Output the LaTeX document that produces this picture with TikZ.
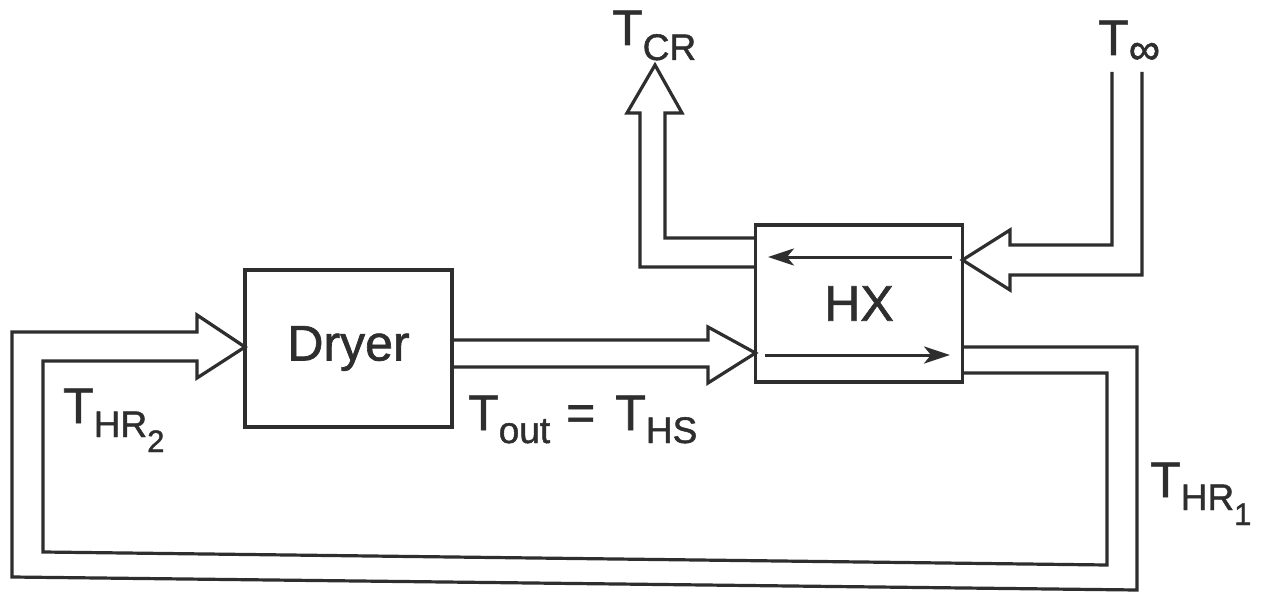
\documentclass[tikz,border=0pt]{standalone}
\usepackage{fontspec}
\setmainfont{Liberation Sans}[FakeBold=1.3]
\usetikzlibrary{arrows.meta}
\definecolor{ink}{HTML}{2E2E2E}
\newcommand\Tlab[1]{{\fontsize{50}{50}\selectfont T}#1}
\newcommand\subtxt[2]{\raisebox{-#1}{\fontsize{37}{37}\selectfont #2}}
\newcommand\subsub[2]{\raisebox{-#1}{\fontsize{31}{31}\selectfont #2}}
\begin{document}
\begin{tikzpicture}[x=1pt,y=-1pt,
  pipe/.style={draw=ink, line width=3.2pt, line join=miter},
  unit/.style={draw=ink, line width=3.6pt, outer sep=0pt, inner sep=0pt, minimum width=207pt, minimum height=157pt, font=\fontsize{50}{50}\selectfont, text=ink},
  flow/.style={draw=ink, line width=3pt, -{Stealth[length=26pt,width=17pt,inset=7pt]}},
  lab/.style={anchor=base west, inner sep=0pt, text=ink}]
\useasboundingbox (0,0) rectangle (1261,596);
\fill[white] (0,0) rectangle (1261,596);
% units
\node[unit] (dryer) at (348.5,348.5) {\raisebox{-4pt}{Dryer}};
\node[unit] (hx) at (859,303.5) {HX};
% internal flow arrows of HX
\coordinate (hxa1) at (952,257);
\coordinate (hxa2) at (768,257);
\coordinate (hxb1) at (765,355);
\coordinate (hxb2) at (950,355);
\draw[flow] (hxa1) -- (hxa2);
\draw[flow] (hxb1) -- (hxb2);
% Dryer -> HX
\draw[pipe] (dryer.east |- 0,340) -- (708,340) -- (708,327) -- (hx.west |- 0,353)
  -- (708,383) -- (708,367) -- (dryer.east |- 0,367);
% HX -> T_CR
\draw[pipe] (hx.west |- 0,238) -- (665,238) -- (665,113) -- (682,113) -- (655,65)
  -- (627,113) -- (640,113) -- (640,267) -- (hx.west |- 0,267);
% T_inf -> HX
\draw[pipe] (1112,72) -- (1112,245) -- (1010,245) -- (1010,230) -- (hx.east |- 0,260)
  -- (1010,290) -- (1010,275) -- (1142,275) -- (1142,72);
% loop HX -> Dryer
\draw[pipe] (hx.east |- 0,347) -- (1137,347) -- (1137,590) -- (12,577) -- (12,332)
  -- (197,332) -- (197,315) -- (dryer.west |- 0,347) -- (197,378) -- (197,361)
  -- (43,361) -- (43,552) -- (1107,565) -- (1107,373) -- (hx.east |- 0,373);
% labels
\node[lab] (tcr) at (612,45) {\Tlab{\subtxt{15pt}{CR}}};
\node[lab] (tinf) at (1098,55) {\Tlab{\raisebox{-9pt}{\fontsize{44}{44}\selectfont ∞}}};
\node[lab] (thr2) at (63,423) {\Tlab{\subtxt{14pt}{HR\subsub{15pt}{2}}}};
\node[lab] (thr1) at (1150,497) {\Tlab{\subtxt{13pt}{HR\subsub{15pt}{1}}}};
\node[lab] (tout) at (468,430) {\Tlab{\subtxt{13pt}{out}}\fontsize{50}{50}\selectfont\kern16pt=\kern20pt\Tlab{\subtxt{13pt}{HS}}};
\end{tikzpicture}
\end{document}
